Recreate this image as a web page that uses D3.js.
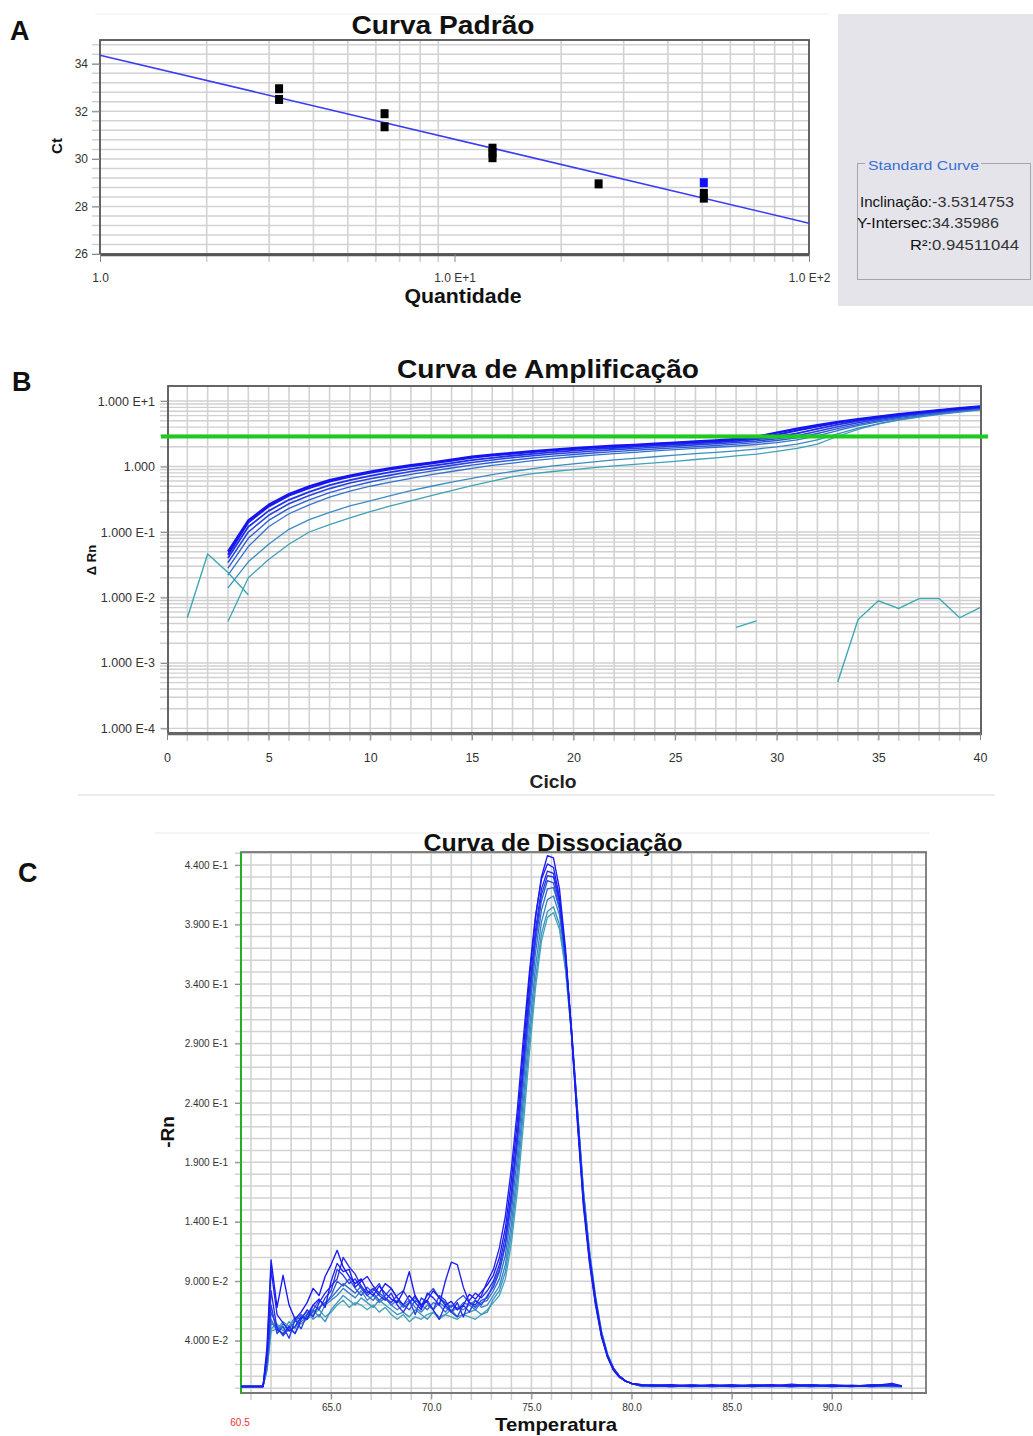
<!DOCTYPE html>
<html><head><meta charset="utf-8">
<script src="https://cdn.jsdelivr.net/npm/d3@7"></script>
<style>body{margin:0;background:#fff}svg{display:block;font-family:"Liberation Sans",Arial,sans-serif}</style>
</head><body><svg id="fig" width="1033" height="1436"></svg>
<script>
// ---------------- DATA ----------------
// Panel A: standard curve
const quantA = [3.2, 3.2, 6.35, 6.35, 12.8, 12.8, 12.8, 25.5, 50.5, 50.5];
const ctA    = [32.95, 32.5, 31.9, 31.35, 30.45, 30.25, 30.05, 28.95, 28.55, 28.35];
const selQuantA = [50.5];
const selCtA = [29.0];
const slopeA = -3.5314753, interceptA = 34.35986, r2A = 0.94511044;
const ticksAy = [26, 28, 30, 32, 34];
const ticksAx = [1, 10, 100];
const labelsAx = ["1.0", "1.0 E+1", "1.0 E+2"];

// Panel B: amplification plot (ΔRn per cycle)
const cyclesB = [3,4,5,6,7,8,9,10,11,12,13,14,15,16,17,18,19,20,21,22,23,24,25,26,27,28,29,30,31,32,33,34,35,36,37,38,39,40];
const amp0 = [0.05,0.15,0.26,0.38,0.5,0.62,0.73,0.84,0.95,1.05,1.15,1.28,1.42,1.52,1.62,1.72,1.82,1.92,2.0,2.08,2.15,2.24,2.33,2.42,2.52,2.64,2.85,3.3,3.8,4.3,4.8,5.3,5.8,6.3,6.8,7.3,7.8,8.3];
const amp1 = [0.045,0.14,0.245,0.36,0.47,0.59,0.7,0.8,0.91,1.01,1.11,1.23,1.36,1.47,1.57,1.67,1.77,1.86,1.95,2.03,2.1,2.19,2.28,2.37,2.46,2.57,2.72,3.05,3.55,4.1,4.65,5.2,5.7,6.2,6.7,7.2,7.7,8.2];
const amp2 = [0.04,0.12,0.21,0.31,0.41,0.52,0.62,0.72,0.82,0.92,1.02,1.13,1.25,1.36,1.46,1.56,1.66,1.75,1.84,1.92,2.0,2.08,2.17,2.26,2.35,2.45,2.6,2.85,3.2,3.75,4.35,4.95,5.5,6.0,6.5,7.0,7.5,8.0];
const amp3 = [0.034,0.1,0.18,0.27,0.36,0.46,0.56,0.65,0.74,0.84,0.93,1.04,1.15,1.26,1.36,1.46,1.55,1.64,1.73,1.81,1.89,1.97,2.05,2.14,2.23,2.33,2.46,2.65,2.95,3.45,4.05,4.65,5.25,5.8,6.35,6.9,7.4,7.9];
const amp4 = [0.028,0.08,0.15,0.23,0.31,0.4,0.49,0.58,0.67,0.76,0.85,0.95,1.05,1.15,1.25,1.35,1.44,1.53,1.61,1.69,1.77,1.85,1.93,2.01,2.1,2.2,2.32,2.5,2.75,3.2,3.8,4.4,5.0,5.6,6.15,6.7,7.2,7.7];
const amp5 = [0.022,0.06,0.12,0.19,0.26,0.34,0.42,0.5,0.58,0.66,0.75,0.84,0.94,1.04,1.13,1.23,1.32,1.41,1.49,1.57,1.65,1.73,1.81,1.89,1.97,2.06,2.17,2.32,2.55,2.95,3.55,4.2,4.8,5.4,5.95,6.5,7.0,7.55];
const amp6 = [0.014,0.035,0.065,0.11,0.155,0.2,0.25,0.3,0.36,0.43,0.5,0.58,0.66,0.75,0.84,0.93,1.02,1.1,1.18,1.26,1.33,1.41,1.49,1.57,1.65,1.74,1.85,1.99,2.2,2.55,3.15,3.85,4.5,5.1,5.7,6.25,6.8,7.35];
const amp7 = [0.0043,0.02,0.038,0.065,0.1,0.13,0.165,0.205,0.25,0.3,0.36,0.43,0.51,0.6,0.7,0.78,0.84,0.9,0.96,1.02,1.08,1.14,1.2,1.28,1.36,1.45,1.55,1.7,1.9,2.2,2.9,3.7,4.5,5.2,5.8,6.35,6.9,7.4];
const noise1Cycles = [1,2,3,4];
const noise1Vals   = [0.0049,0.046,0.024,0.011];
const noise2Cycles = [28,29];
const noise2Vals   = [0.0035,0.0044];
const noise3Cycles = [33,34,35,36,37,38,39,40];
const noise3Vals   = [0.00051,0.0046,0.0089,0.0068,0.0096,0.0096,0.0049,0.0070];
const thresholdB = 2.88;
const ticksBy = [1e-4,1e-3,1e-2,1e-1,1,10];
const ticksBx = [0,5,10,15,20,25,30,35,40];

// Panel C: dissociation (melt) curves, -Rn' vs temperature
const tempC = [60.5,61.6,61.8,62.0,62.3,62.6,62.9,63.2,63.5,63.8,64.1,64.4,64.7,65.0,65.3,65.6,65.9,66.2,66.5,66.8,67.1,67.4,67.7,68.0,68.3,68.6,68.9,69.2,69.5,69.8,70.1,70.4,70.7,71.0,71.3,71.6,71.9,72.2,72.5,72.8,73.1,73.4,73.7,74.0,74.3,74.6,74.9,75.2,75.5,75.8,76.1,76.4,76.7,77.0,77.3,77.6,77.9,78.2,78.5,78.8,79.1,79.4,79.7,80.0,80.5,81,82,83,84,85,86,87,88,89,90,91,92,93,93.5];
const melt0 = [0.0015,0.0015,0.035,0.108,0.068,0.095,0.07,0.058,0.064,0.072,0.084,0.078,0.094,0.104,0.116,0.102,0.094,0.088,0.092,0.082,0.078,0.086,0.08,0.075,0.072,0.081,0.098,0.077,0.07,0.074,0.082,0.076,0.07,0.073,0.066,0.07,0.079,0.075,0.081,0.087,
  0.095,0.11,0.135,0.175,0.225,0.285,0.345,0.395,0.43,0.448,0.446,0.42,0.37,0.30,0.225,0.155,0.11,0.075,0.045,0.027,0.016,0.01,0.006,0.004,
  0.003,0.0025,0.003,0.002,0.0025,0.0015,0.002,0.003,0.002,0.0025,0.0015,0.002,0.002,0.004,0.002];
const melt1 = [0.0015,0.0015,0.03,0.1,0.062,0.055,0.048,0.052,0.06,0.058,0.07,0.075,0.068,0.09,0.105,0.098,0.1,0.085,0.09,0.094,0.086,0.08,0.088,0.084,0.076,0.07,0.078,0.072,0.066,0.08,0.076,0.07,0.09,0.106,0.104,0.085,0.072,0.07,0.078,0.09,
  0.1,0.118,0.145,0.185,0.235,0.295,0.35,0.397,0.428,0.441,0.438,0.413,0.365,0.298,0.222,0.152,0.105,0.07,0.043,0.026,0.015,0.009,0.006,0.004,
  0.0025,0.002,0.0015,0.0025,0.002,0.003,0.0015,0.002,0.0035,0.002,0.0025,0.0015,0.003,0.0025,0.002];
const melt2 = [0.0015,0.0015,0.028,0.082,0.05,0.045,0.052,0.046,0.058,0.066,0.06,0.072,0.08,0.086,0.092,0.11,0.102,0.096,0.086,0.08,0.084,0.078,0.074,0.08,0.07,0.064,0.072,0.078,0.068,0.074,0.066,0.058,0.07,0.064,0.072,0.06,0.074,0.08,0.076,0.082,
  0.09,0.104,0.128,0.165,0.215,0.275,0.335,0.385,0.42,0.435,0.433,0.41,0.365,0.30,0.228,0.158,0.108,0.072,0.044,0.027,0.016,0.01,0.006,0.004,
  0.003,0.002,0.0025,0.0015,0.003,0.002,0.0025,0.002,0.0015,0.003,0.002,0.0025,0.0015,0.003,0.002];
const melt3 = [0.0015,0.0015,0.025,0.07,0.046,0.052,0.042,0.058,0.05,0.062,0.07,0.066,0.076,0.082,0.1,0.095,0.088,0.092,0.084,0.078,0.082,0.088,0.076,0.072,0.078,0.082,0.074,0.062,0.076,0.072,0.066,0.078,0.074,0.064,0.06,0.07,0.064,0.074,0.07,0.078,
  0.085,0.098,0.12,0.158,0.208,0.268,0.328,0.38,0.415,0.431,0.43,0.408,0.364,0.302,0.23,0.16,0.11,0.073,0.045,0.027,0.016,0.01,0.006,0.004,
  0.002,0.003,0.002,0.0025,0.0015,0.002,0.003,0.0025,0.002,0.0015,0.003,0.002,0.0025,0.002,0.0015];
const melt4 = [0.0015,0.0015,0.022,0.064,0.052,0.044,0.05,0.056,0.062,0.058,0.066,0.074,0.07,0.078,0.09,0.086,0.092,0.084,0.078,0.085,0.08,0.074,0.078,0.084,0.076,0.07,0.066,0.074,0.07,0.078,0.084,0.076,0.072,0.068,0.074,0.078,0.072,0.068,0.074,0.076,
  0.088,0.1,0.122,0.16,0.21,0.268,0.325,0.375,0.41,0.427,0.425,0.404,0.36,0.298,0.226,0.157,0.107,0.071,0.044,0.026,0.015,0.009,0.006,0.004,
  0.0025,0.0015,0.002,0.003,0.002,0.0025,0.002,0.0015,0.0025,0.003,0.002,0.0015,0.0025,0.002,0.002];
const melt5 = [0.0015,0.0015,0.02,0.058,0.048,0.054,0.05,0.046,0.056,0.06,0.064,0.068,0.072,0.076,0.082,0.088,0.084,0.08,0.086,0.078,0.074,0.08,0.076,0.07,0.074,0.068,0.072,0.076,0.07,0.066,0.072,0.07,0.064,0.07,0.066,0.072,0.07,0.066,0.072,0.074,
  0.082,0.092,0.112,0.148,0.196,0.255,0.315,0.366,0.402,0.42,0.421,0.403,0.362,0.302,0.232,0.162,0.112,0.074,0.046,0.028,0.017,0.01,0.006,0.004,
  0.002,0.0025,0.002,0.0015,0.002,0.0025,0.002,0.002,0.0015,0.002,0.0025,0.002,0.0015,0.002,0.002];
const melt6 = [0.0015,0.0015,0.018,0.055,0.05,0.046,0.052,0.06,0.058,0.062,0.066,0.06,0.07,0.074,0.078,0.084,0.08,0.076,0.082,0.074,0.078,0.072,0.076,0.07,0.066,0.07,0.074,0.068,0.064,0.07,0.066,0.072,0.068,0.064,0.068,0.066,0.07,0.074,0.068,0.07,
  0.078,0.086,0.104,0.138,0.185,0.243,0.302,0.354,0.392,0.411,0.414,0.398,0.36,0.302,0.234,0.165,0.114,0.076,0.047,0.028,0.017,0.01,0.006,0.004,
  0.002,0.002,0.0015,0.002,0.002,0.0015,0.002,0.002,0.002,0.0015,0.002,0.002,0.002,0.0015,0.0015];
const melt7 = [0.0015,0.0015,0.016,0.05,0.054,0.048,0.056,0.05,0.06,0.064,0.058,0.062,0.056,0.066,0.072,0.078,0.074,0.07,0.076,0.072,0.068,0.074,0.07,0.066,0.062,0.064,0.06,0.066,0.062,0.058,0.064,0.06,0.062,0.066,0.06,0.062,0.064,0.066,0.062,0.064,
  0.075,0.082,0.098,0.13,0.176,0.233,0.292,0.344,0.382,0.401,0.405,0.39,0.354,0.298,0.232,0.164,0.114,0.076,0.047,0.028,0.017,0.01,0.006,0.004,
  0.0015,0.002,0.0015,0.002,0.0015,0.002,0.0015,0.002,0.0015,0.002,0.0015,0.002,0.0015,0.0015,0.0015];
const melt8 = [0.0015,0.0015,0.015,0.048,0.05,0.056,0.052,0.058,0.054,0.058,0.062,0.066,0.06,0.064,0.07,0.074,0.068,0.072,0.07,0.066,0.07,0.064,0.068,0.062,0.058,0.062,0.056,0.06,0.058,0.062,0.064,0.058,0.062,0.06,0.058,0.062,0.06,0.058,0.062,0.066,
  0.072,0.078,0.092,0.122,0.166,0.222,0.282,0.336,0.376,0.396,0.4,0.386,0.352,0.298,0.234,0.166,0.116,0.078,0.048,0.029,0.017,0.01,0.006,0.004,
  0.0015,0.0015,0.0015,0.0015,0.0015,0.0015,0.0015,0.0015,0.0015,0.0015,0.0015,0.0015,0.0015,0.0015,0.0015];
const ticksCy = [0.04,0.09,0.14,0.19,0.24,0.29,0.34,0.39,0.44];
const ticksCx = [65,70,75,80,85,90];

// ---------------- DRAWING ----------------
const svg = d3.select('#fig');
const GRID = '#d2d2d2';

function label(g, x, y, s, o = {}) {
  const t = g.append('text').attr('x', x).attr('y', y).text(s)
    .attr('font-size', o.size || 12).attr('fill', o.fill || '#111')
    .attr('font-weight', o.weight || 'normal').attr('text-anchor', o.anchor || 'start');
  if (o.len) t.attr('textLength', o.len).attr('lengthAdjust', 'spacingAndGlyphs');
  if (o.rotate) t.attr('transform', `rotate(-90,${x},${y})`);
  return t;
}
function styleAxis(ax, size, fill) {
  ax.select('.domain').remove();
  ax.selectAll('.tick line').attr('stroke', '#888');
  ax.selectAll('text').attr('font-size', size).attr('fill', fill || '#333')
    .attr('font-family', '"Liberation Sans",Arial,sans-serif');
}

// ===== Panel A =====
const gA = svg.append('g');
const xA = d3.scaleLog().domain([1, 100]).range([100, 809]);
const yA = d3.scaleLinear().domain([26, 35]).range([254, 40]);
gA.append('line').attr('x1', 95).attr('x2', 830).attr('y1', 14).attr('y2', 14).attr('stroke', '#f1f1f1');
const hA = d3.range(26, 35.01, 0.4);
gA.selectAll('.hA').data(hA).join('line')
  .attr('x1', 92).attr('x2', 809).attr('y1', d => yA(d)).attr('y2', d => yA(d))
  .attr('stroke', GRID).attr('stroke-width', 1.5);
const vA = [2,3,4,5,6,7,8,9,20,30,40,50,60,70,80,90];
gA.selectAll('.vA').data(vA).join('line')
  .attr('x1', d => xA(d)).attr('x2', d => xA(d)).attr('y1', 40).attr('y2', 262)
  .attr('stroke', GRID).attr('stroke-width', 1.6);
gA.append('rect').attr('x', 100).attr('y', 40).attr('width', 709).attr('height', 214)
  .attr('fill', 'none').attr('stroke', '#555').attr('stroke-width', 1.8);
gA.append('line').attr('x1', 100).attr('x2', 810).attr('y1', 255).attr('y2', 255).attr('stroke', '#555').attr('stroke-width', 2.5);
const axAy = gA.append('g').attr('transform', 'translate(100,0)')
  .call(d3.axisLeft(yA).tickValues(ticksAy).tickSize(8).tickPadding(4));
styleAxis(axAy, 12);
const axAx = gA.append('g').attr('transform', 'translate(0,254)')
  .call(d3.axisBottom(xA).tickValues(ticksAx).tickSize(8).tickPadding(11).tickFormat((d, i) => labelsAx[i]));
styleAxis(axAx, 12);
// regression line
const lineA = d3.line().x(d => xA(d)).y(d => yA(slopeA * Math.log10(d) + interceptA));
gA.append('path').attr('d', lineA([1, 100])).attr('fill', 'none').attr('stroke', '#3b3bf5').attr('stroke-width', 1.6);
gA.selectAll('.ptA').data(quantA).join('rect')
  .attr('x', d => xA(d) - 4).attr('y', (d, i) => yA(ctA[i]) - 4.5).attr('width', 8).attr('height', 9).attr('fill', '#000');
gA.selectAll('.selA').data(selQuantA).join('rect')
  .attr('x', d => xA(d) - 4).attr('y', (d, i) => yA(selCtA[i]) - 4.5).attr('width', 8).attr('height', 9).attr('fill', '#1010ff');
label(gA, 443, 34, 'Curva Padrão', { size: 26, weight: 'bold', anchor: 'middle', len: 183 });
label(gA, 463, 303, 'Quantidade', { size: 20, weight: 'bold', anchor: 'middle', len: 117 });
label(gA, 62, 146, 'Ct', { size: 15, weight: 'bold', anchor: 'middle', rotate: true });
// side panel
gA.append('rect').attr('x', 838).attr('y', 14).attr('width', 195).attr('height', 292).attr('fill', '#e4e4ea');
gA.append('rect').attr('x', 857.5).attr('y', 163.5).attr('width', 173).attr('height', 116).attr('fill', 'none').attr('stroke', '#a6a6aa');
gA.append('rect').attr('x', 865).attr('y', 156).attr('width', 116).attr('height', 14).attr('fill', '#e4e4ea');
label(gA, 868, 170, 'Standard Curve', { size: 13, fill: '#3a6fd6', len: 111 });
label(gA, 860, 207, 'Inclinação:', { size: 15, fill: '#111', len: 72 });
label(gA, 932, 207, String(slopeA), { size: 14, fill: '#333', len: 82 });
label(gA, 857, 228, 'Y-Intersec:', { size: 15, fill: '#111', len: 75 });
label(gA, 932, 228, String(interceptA), { size: 14, fill: '#333', len: 67 });
label(gA, 910, 250, 'R²:', { size: 15, fill: '#111', len: 22 });
label(gA, 932, 250, String(r2A), { size: 14, fill: '#333', len: 87 });
label(gA, 10, 40, 'A', { size: 27, weight: 'bold' });

// ===== Panel B =====
const gB = svg.append('g');
const xB = d3.scaleLinear().domain([0, 40]).range([167, 980]);
const yB = d3.scaleLog().domain([Math.pow(10, -4.07), Math.pow(10, 1.23)]).range([733, 386]);
gB.append('line').attr('x1', 78).attr('x2', 995).attr('y1', 795).attr('y2', 795).attr('stroke', '#e6e6e6').attr('stroke-width', 1.5);
const hB = [];
for (let e = -4; e <= 1; e++) for (let k = 1; k <= 9; k++) { const v = k * Math.pow(10, e); if (v < Math.pow(10, 1.23)) hB.push(v); }
gB.selectAll('.hB').data(hB).join('line')
  .attr('x1', 160).attr('x2', 981).attr('y1', d => yB(d)).attr('y2', d => yB(d))
  .attr('stroke', '#d0d0d0').attr('stroke-width', 1.4);
const vB = d3.range(1, 40);
gB.selectAll('.vB').data(vB).join('line')
  .attr('x1', d => xB(d)).attr('x2', d => xB(d)).attr('y1', 386).attr('y2', 741)
  .attr('stroke', GRID).attr('stroke-width', 1.6);
gB.append('rect').attr('x', 168).attr('y', 386).attr('width', 813).attr('height', 347)
  .attr('fill', 'none').attr('stroke', '#555').attr('stroke-width', 1.8);
gB.append('line').attr('x1', 168).attr('x2', 982).attr('y1', 734).attr('y2', 734).attr('stroke', '#666').attr('stroke-width', 2.5);
const fmtB = d => { const e = Math.round(Math.log10(d)); return e === 0 ? '1.000' : '1.000 E' + (e > 0 ? '+' : '') + e; };
const axBy = gB.append('g').attr('transform', 'translate(168,0)')
  .call(d3.axisLeft(yB).tickValues(ticksBy).tickSize(7).tickPadding(6).tickFormat(fmtB));
styleAxis(axBy, 12.5);
const axBx = gB.append('g').attr('transform', 'translate(0,733)')
  .call(d3.axisBottom(xB).tickValues(ticksBx).tickSize(7).tickPadding(13));
styleAxis(axBx, 12.5);
const lineB = d3.line().x(d => xB(d[0])).y(d => yB(d[1]));
const ampSeries = [amp7, amp6, amp5, amp4, amp3, amp2, amp1, amp0];
const ampColors = ['#3fa2b6', '#3a8cc4', '#3474cc', '#2f5cd6', '#2a44e0', '#2030e8', '#1a1aee', '#1414f0'];
const ampWidths = [1.3, 1.3, 1.3, 1.4, 1.6, 1.8, 2.0, 2.2];
ampSeries.forEach((s, i) => {
  gB.append('path').attr('d', lineB(cyclesB.map((c, j) => [c, s[j]])))
    .attr('fill', 'none').attr('stroke', ampColors[i]).attr('stroke-width', ampWidths[i]).attr('stroke-linejoin', 'round');
});
[[noise1Cycles, noise1Vals], [noise2Cycles, noise2Vals], [noise3Cycles, noise3Vals]].forEach(([c, v]) => {
  gB.append('path').attr('d', lineB(c.map((x, j) => [x, v[j]])))
    .attr('fill', 'none').attr('stroke', '#3aa9b0').attr('stroke-width', 1.4);
});
gB.append('line').attr('x1', 161).attr('x2', 988).attr('y1', yB(thresholdB)).attr('y2', yB(thresholdB))
  .attr('stroke', '#1ccc1c').attr('stroke-width', 4);
label(gB, 548, 378, 'Curva de Amplificação', { size: 26, weight: 'bold', anchor: 'middle', len: 302 });
label(gB, 553, 788, 'Ciclo', { size: 18, weight: 'bold', fill: '#222', anchor: 'middle', len: 47 });
label(gB, 96, 560, 'Δ Rn', { size: 13, weight: 'bold', anchor: 'middle', rotate: true });
label(gB, 12, 391, 'B', { size: 27, weight: 'bold' });

// ===== Panel C =====
const gC = svg.append('g');
const xC = d3.scaleLinear().domain([60.5, 94.7]).range([241, 926]);
const yC = d3.scaleLinear().domain([-0.004, 0.451]).range([1393, 852]);
gC.append('line').attr('x1', 155).attr('x2', 930).attr('y1', 833).attr('y2', 833).attr('stroke', '#f0f0f0').attr('stroke-width', 1.5);
const hC = d3.range(0, 46).map(k => k / 100);
gC.selectAll('.hC').data(hC).join('line')
  .attr('x1', 235).attr('x2', 926).attr('y1', d => yC(d)).attr('y2', d => yC(d))
  .attr('stroke', GRID).attr('stroke-width', 1.5);
const vC = d3.range(61, 95);
gC.selectAll('.vC').data(vC).join('line')
  .attr('x1', d => xC(d)).attr('x2', d => xC(d)).attr('y1', 852).attr('y2', 1400)
  .attr('stroke', GRID).attr('stroke-width', 1.6);
gC.append('rect').attr('x', 241).attr('y', 852).attr('width', 685).attr('height', 541)
  .attr('fill', 'none').attr('stroke', '#666').attr('stroke-width', 1.6);
gC.append('line').attr('x1', 241).attr('x2', 927).attr('y1', 1393).attr('y2', 1393).attr('stroke', '#777').attr('stroke-width', 2.2);
gC.append('line').attr('x1', 241).attr('x2', 241).attr('y1', 852).attr('y2', 1394).attr('stroke', '#22b022').attr('stroke-width', 2);
const fmtC = d => d < 0.1 ? (d * 100).toFixed(3) + ' E-2' : (d * 10).toFixed(3) + ' E-1';
const axCy = gC.append('g').attr('transform', 'translate(241,0)')
  .call(d3.axisLeft(yC).tickValues(ticksCy).tickSize(6).tickPadding(7).tickFormat(fmtC));
styleAxis(axCy, 10);
const axCx = gC.append('g').attr('transform', 'translate(0,1393)')
  .call(d3.axisBottom(xC).tickValues(ticksCx).tickSize(6).tickPadding(5).tickFormat(d => d.toFixed(1)));
styleAxis(axCx, 10);
label(gC, 240, 1426, '60.5', { size: 10, fill: '#f03030', anchor: 'middle' });
const lineC = d3.line().x(d => xC(d[0])).y(d => yC(d[1]));
const meltSeries = [melt8, melt7, melt6, melt5, melt4, melt3, melt2, melt1, melt0];
const meltColors = ['#44a6b8', '#3c96c0', '#3a84c8', '#326ed0', '#2c56da', '#2440e2', '#2a2ae8', '#2020f0', '#1818f8'];
meltSeries.forEach((s, i) => {
  gC.append('path').attr('d', lineC(tempC.map((t, j) => [t, s[j]])))
    .attr('fill', 'none').attr('stroke', meltColors[i]).attr('stroke-width', 1.35).attr('stroke-linejoin', 'round');
});
label(gC, 553, 851, 'Curva de Dissociação', { size: 23, weight: 'bold', anchor: 'middle', len: 259 });
label(gC, 556, 1431, 'Temperatura', { size: 19, weight: 'bold', anchor: 'middle', len: 122 });
label(gC, 174, 1132, '-Rn', { size: 19, weight: 'bold', anchor: 'middle', rotate: true });
label(gC, 18, 882, 'C', { size: 27, weight: 'bold' });
</script></body></html>
